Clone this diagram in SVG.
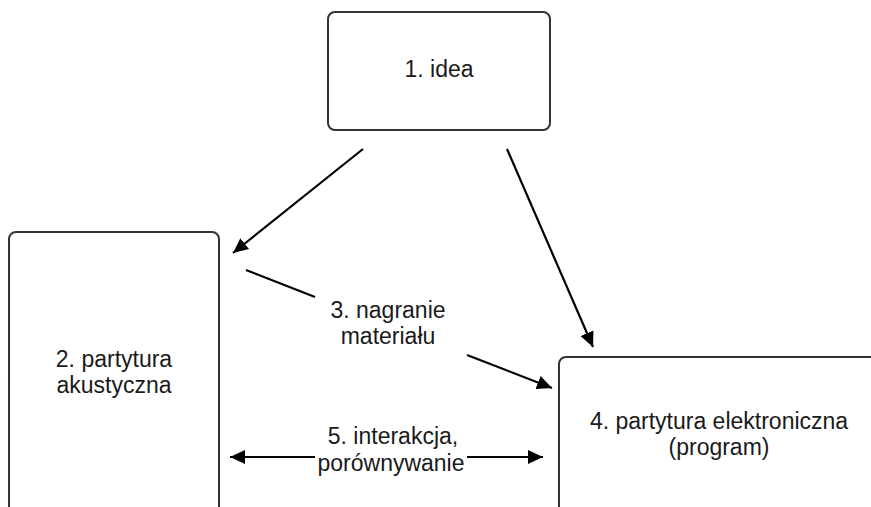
<svg xmlns="http://www.w3.org/2000/svg" width="871" height="507" viewBox="0 0 871 507">
<style>
.box{fill:#fff;stroke:#333;stroke-width:2}
.lbl{font-family:"Liberation Sans",Arial,sans-serif;font-size:23px;fill:#1a1a1a;text-anchor:middle}
.con{stroke:#000;stroke-width:2.2;fill:none}
</style>
<defs>
<marker id="ah" markerUnits="userSpaceOnUse" markerWidth="16" markerHeight="14" refX="15" refY="7" orient="auto">
<path d="M0,0 L15,7 L0,14 z" fill="#000"/>
</marker>
</defs>
<rect width="871" height="507" fill="#fff"/>
<g id="node1">
<rect class="box" x="328" y="12" width="222" height="118" rx="7"/>
<text class="lbl" x="439" y="77">1. idea</text>
</g>
<g id="node2">
<rect class="box" x="9" y="232" width="210" height="290" rx="7"/>
<text class="lbl" x="114" y="367">2. partytura</text>
<text class="lbl" x="114" y="393">akustyczna</text>
</g>
<g id="node4">
<rect class="box" x="559" y="357" width="330" height="170" rx="7"/>
<text class="lbl" x="719" y="429">4. partytura elektroniczna</text>
<text class="lbl" x="719" y="455">(program)</text>
</g>
<g id="connectors">
<line class="con" x1="363" y1="149" x2="233" y2="253" marker-end="url(#ah)"/>
<line class="con" x1="507" y1="149" x2="593" y2="347" marker-end="url(#ah)"/>
<line class="con" x1="246" y1="270" x2="315" y2="297"/>
<line class="con" x1="467" y1="355" x2="552" y2="388" marker-end="url(#ah)"/>
<line class="con" x1="315" y1="457" x2="230" y2="457" marker-end="url(#ah)"/>
<line class="con" x1="467" y1="457" x2="543" y2="457" marker-end="url(#ah)"/>
<text class="lbl" x="388" y="318">3. nagranie</text>
<text class="lbl" x="388" y="344">materiału</text>
<text class="lbl" x="393" y="444">5. interakcja,</text>
<text class="lbl" x="391" y="471">porównywanie</text>
</g>
</svg>
